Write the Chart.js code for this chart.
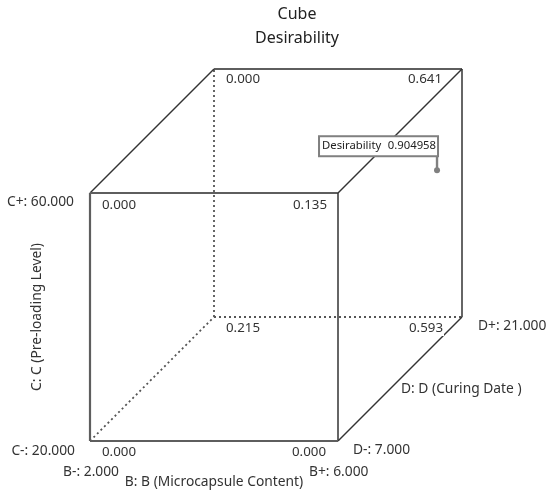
<!DOCTYPE html>
<html>
<head>
<meta charset="utf-8">
<title>Cube Desirability</title>
<script src="https://cdn.jsdelivr.net/npm/chart.js@4"></script>
<style>
  html, body { margin: 0; background: #fff; }
  #wrap { width: 550px; height: 495px; }
</style>
</head>
<body>
<div id="wrap"><canvas id="cube" width="550" height="495"></canvas></div>
<script>
const titleLines = ["Cube", "Desirability"];
const factorB = [2, 6];
const factorC = [20, 60];
const factorD = [7, 21];
const factorNames = ["B: B (Microcapsule Content)", "C: C (Pre-loading Level)", "D: D (Curing Date )"];
// desirability at corners, order [b, c, d] level index
const cornerB = [0, 1, 0, 1, 0, 1, 0, 1];
const cornerC = [0, 0, 1, 1, 0, 0, 1, 1];
const cornerD = [0, 0, 0, 0, 1, 1, 1, 1];
const cornerValues = ["0.000", "0.000", "0.000", "0.135", "0.215", "0.593", "0.000", "0.641"];
// current factor setting flagged on the plot
const flagB = 5.74;
const flagC = 45.1;
const flagD = 20;
const flagValue = "0.904958";

const textCol = "#333";
const fontFam = '"Noto Sans", "Open Sans", sans-serif';

// oblique projection, depth runs up and to the right
function project(b, c, d) {
  const u = (d - factorD[0]) / (factorD[1] - factorD[0]);
  return {
    x: (b - factorB[0]) / (factorB[1] - factorB[0]) + u / 2,
    y: (c - factorC[0]) / (factorC[1] - factorC[0]) + u / 2
  };
}

function corner(i) {
  return project(factorB[cornerB[i]], factorC[cornerC[i]], factorD[cornerD[i]]);
}

function edge(a, b, style) {
  const look = {
    thin: { color: "#333", width: 1.5, dash: [] },
    heavy: { color: "#5e5e5e", width: 2.2, dash: [] },
    dotted: { color: "#555", width: 1.8, dash: [2, 3] }
  }[style];
  return {
    data: [corner(a), corner(b)],
    showLine: true,
    borderColor: look.color,
    borderWidth: look.width,
    borderDash: look.dash,
    pointRadius: 0,
    clip: false
  };
}

const edges = [
  edge(0, 1, "heavy"), edge(0, 2, "heavy"), edge(1, 3, "thin"), edge(2, 3, "heavy"),
  edge(2, 6, "thin"), edge(3, 7, "thin"), edge(1, 5, "thin"), edge(6, 7, "heavy"), edge(5, 7, "thin"),
  edge(0, 4, "dotted"), edge(4, 5, "dotted"), edge(4, 6, "dotted")
];

const flagSet = {
  data: [project(flagB, flagC, flagD)],
  pointRadius: 3,
  pointBackgroundColor: "#808080",
  pointBorderWidth: 0,
  clip: false
};

// offset from each corner to its value label
const valueOffset = [
  [12, 11, "left"], [-12, 11, "right"], [12, 12, "left"], [-11, 12, "right"],
  [12, 11, "left"], [-19, 11, "right"], [12, 10, "left"], [-20, 10, "right"]
];

const cubeLabels = {
  id: "cubeLabels",
  afterDatasetsDraw(chart) {
    const ctx = chart.ctx;
    const sx = chart.scales.x, sy = chart.scales.y;
    const px = p => [sx.getPixelForValue(p.x), sy.getPixelForValue(p.y)];
    const put = (txt, x, y, align) => {
      ctx.textAlign = align || "left";
      ctx.fillText(txt, x, y);
    };
    ctx.save();
    ctx.textBaseline = "middle";
    ctx.font = "13.3px " + fontFam;

    cornerValues.forEach((v, i) => {
      const [x, y] = px(corner(i));
      const o = valueOffset[i];
      const w = ctx.measureText(v).width;
      const tx = x + o[0];
      const ty = y + o[1];
      ctx.fillStyle = "#fff";
      ctx.fillRect(o[2] === "left" ? tx - 1 : tx - w - 1, ty - 8, w + 2, 16);
      ctx.fillStyle = textCol;
      put(v, tx, ty, o[2]);
    });

    ctx.font = "13.8px " + fontFam;
    const low = 0, high = 1;
    let p = px(corner(2));
    put("C+: " + factorC[high].toFixed(3), p[0] - 16, p[1] + 9, "right");
    p = px(corner(0));
    put("C-: " + factorC[low].toFixed(3), p[0] - 15, p[1] + 10, "right");
    put("B-: " + factorB[low].toFixed(3), p[0] + 29, p[1] + 31, "right");
    p = px(corner(1));
    put("B+: " + factorB[high].toFixed(3), p[0] - 29, p[1] + 31);
    put("D-: " + factorD[low].toFixed(3), p[0] + 15, p[1] + 9);
    p = px(corner(5));
    put("D+: " + factorD[high].toFixed(3), p[0] + 16, p[1] + 9);

    p = px(corner(0));
    put(factorNames[0], p[0] + 124, p[1] + 41, "center");
    put(factorNames[2], p[0] + 311, p[1] - 52);
    ctx.save();
    ctx.translate(37, p[1] - 124);
    ctx.rotate(-Math.PI / 2);
    put(factorNames[1], 0, 0, "center");
    ctx.restore();

    // flag for the current setting
    const [fx, fy] = px(project(flagB, flagC, flagD));
    const left = fx - 118, top = fy - 34, w = 119, h = 20;
    ctx.strokeStyle = "#808080";
    ctx.lineWidth = 2;
    ctx.fillStyle = "#fff";
    ctx.fillRect(left, top, w, h);
    ctx.strokeRect(left, top, w, h);
    ctx.lineWidth = 2.4;
    ctx.beginPath();
    ctx.moveTo(fx, top + h);
    ctx.lineTo(fx, fy);
    ctx.stroke();
    ctx.fillStyle = "#222";
    ctx.font = "11.3px " + fontFam;
    put("Desirability", left + 3, top + 10);
    put(flagValue, left + w - 2, top + 10, "right");
    ctx.restore();
  }
};

new Chart(document.getElementById("cube").getContext("2d"), {
  type: "scatter",
  data: { datasets: edges.concat([flagSet]) },
  plugins: [cubeLabels],
  options: {
    responsive: false,
    animation: false,
    layout: { autoPadding: false, padding: { left: 44, right: 0, top: 0, bottom: 54 } },
    plugins: {
      legend: { display: false },
      tooltip: { enabled: false },
      title: {
        display: true,
        text: titleLines,
        color: "#222",
        font: { family: fontFam, size: 16, weight: "normal", lineHeight: 1.5 },
        padding: { top: 2, bottom: 19 }
      }
    },
    scales: {
      x: { display: false, min: -46 / 248, max: 460 / 248 },
      y: { display: false, min: 0, max: 1.5 }
    }
  }
});
</script>
</body>
</html>
